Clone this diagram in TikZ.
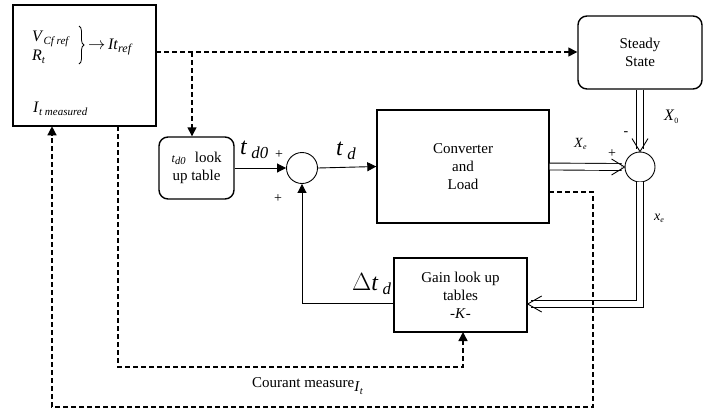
\documentclass[tikz,border=0pt]{standalone}
\usepackage{fontspec}
\setmainfont{Liberation Serif}
\usetikzlibrary{arrows.meta,decorations.pathreplacing}
\newcommand{\lsub}[2][11]{\raisebox{-3pt}{\fontsize{#1}{#1}\selectfont\itshape #2}}
\begin{document}
\begin{tikzpicture}[x=1pt,y=-1pt,
  blk/.style={draw, line width=1.4pt, inner sep=0pt, font=\fontsize{15}{18}\selectfont, align=center},
  rblk/.style={blk, rounded corners=9pt},
  sumc/.style={draw, circle, line width=0.9pt, minimum size=31pt, inner sep=0pt},
  arr/.style={-{Triangle[length=9pt,width=9pt]}, line width=0.9pt},
  darr/.style={line width=1.4pt, dash pattern=on 5pt off 3pt},
  dtip/.style={-{Triangle[length=9pt,width=9pt]}},
  dbl/.style={double, double distance=6pt, line width=0.9pt},
  vtip/.style={line width=0.9pt},
  lbl/.style={inner sep=0pt, font=\fontsize{14}{16}\selectfont},
  txt/.style={inner sep=0pt, anchor=base west, font=\fontsize{16}{18}\selectfont},
  big/.style={inner sep=0pt, font=\fontsize{24}{26}\selectfont},
  bracestyle/.style={decorate, decoration={brace, amplitude=5pt}, line width=0.8pt},
]
\useasboundingbox (0,0) rectangle (710,416);

% blocks
\node[blk, minimum width=143pt, minimum height=121pt] (ctrl) at (84.5,65.5) {};
\node[rblk, minimum width=75pt, minimum height=62pt] (td0) at (196.5,168) {\textit{\fontsize{12}{12}\selectfont t}\textsubscript{\textit{d0}}\,\, look\\up table};
\node[sumc] (s1) at (302,168) {};
\node[blk, minimum width=172pt, minimum height=113pt] (conv) at (463,166.5) {Converter\\and\\Load};
\node[rblk, minimum width=124pt, minimum height=73pt] (ss) at (640,52.5) {Steady\\State};
\node[sumc, minimum size=30pt] (s2) at (640,167) {};
\node[blk, minimum width=133pt, minimum height=74pt] (gain) at (460.5,295) {Gain look up\\tables\\-\textit{K}-};

% text in controller block
\node[txt] (vref) at (32,41) {\textit{V}\lsub{Cf ref}};
\node[txt] (rt) at (32,60) {\textit{R}\lsub{t}};
\coordinate (bt) at (79,26);
\coordinate (bb) at (79,64);
\draw[bracestyle] (bt) -- (bb);
\node[txt] (itref) at (88,49) {$\rightarrow$\,\textit{It}\lsub[12]{ref}};
\node[txt] (imeas) at (33,112) {\textit{I}\lsub{t measured}};

% named points
\coordinate (c1) at (156,52);
\coordinate (c2) at (192,52);
\coordinate (c3) at (118,126);
\coordinate (c4) at (549,192);

% solid signal arrows
\draw[arr] (td0.east) -- (s1.west);
\draw[arr] (s1.east) -- (conv.west);
\draw[arr] ([yshift=-8pt]gain.west) -| (s1.south);

% double lines
\draw[dbl] (ss.south) -- ([yshift=3pt]s2.north);
\draw[vtip] ([xshift=-8pt,yshift=13pt]s2.north) -- (s2.north) -- ([xshift=8pt,yshift=13pt]s2.north);
\draw[dbl] (conv.east) -- ([xshift=-3pt]s2.west);
\draw[vtip] ([xshift=-13pt,yshift=-8pt]s2.west) -- (s2.west) -- ([xshift=-13pt,yshift=8pt]s2.west);
\draw[dbl] (s2.south) |- ([xshift=3pt,yshift=-9pt]gain.east);
\draw[vtip] ([xshift=14pt,yshift=-17pt]gain.east) -- ([yshift=-9pt]gain.east) -- ([xshift=14pt,yshift=-1pt]gain.east);

% dashed lines
\draw[darr, dtip] (c1) -- (ss.west |- c1);
\draw[darr, dtip] (c2) -- (c2 |- td0.north);
\draw[darr, dtip] (c3) -- (118,367) -- (463,367) -- (463,332);
\draw[darr, dtip] (c4) -- (593,192) -- (593,407) -- (52,407) -- (52,126.3);

% labels
\node[lbl] at (279,155) {+};
\node[lbl] at (278,199) {+};
\node[big, anchor=west] at (240,150) {\textit{t}\,\textsubscript{\textit{d0}}};
\node[big, anchor=west] at (336,151) {\textit{t}\,\textsubscript{\textit{d}}};
\node[lbl, anchor=west] at (574,144) {\textit{X}\textsubscript{\textit{\fontsize{8}{8}\selectfont e}}};
\node[lbl] at (612,154) {+};
\node[lbl] at (626,134) {-};
\node[lbl, anchor=west, font=\fontsize{16}{18}\selectfont] at (664,117) {\textit{X}\textsubscript{\fontsize{8}{8}\selectfont 0}};
\node[lbl, anchor=west] at (654,218) {\textit{x}\textsubscript{\textit{\fontsize{8}{8}\selectfont e}}};
\node[big, anchor=west] at (352,284) {$\Delta$\textit{t}\,\textsubscript{\textit{d}}};
\node[inner sep=0pt, anchor=west, font=\fontsize{15}{18}\selectfont] at (252,386) {Courant measure\raisebox{-4pt}{\textit{I}\textsubscript{\textit{t}}}};
\end{tikzpicture}
\end{document}
